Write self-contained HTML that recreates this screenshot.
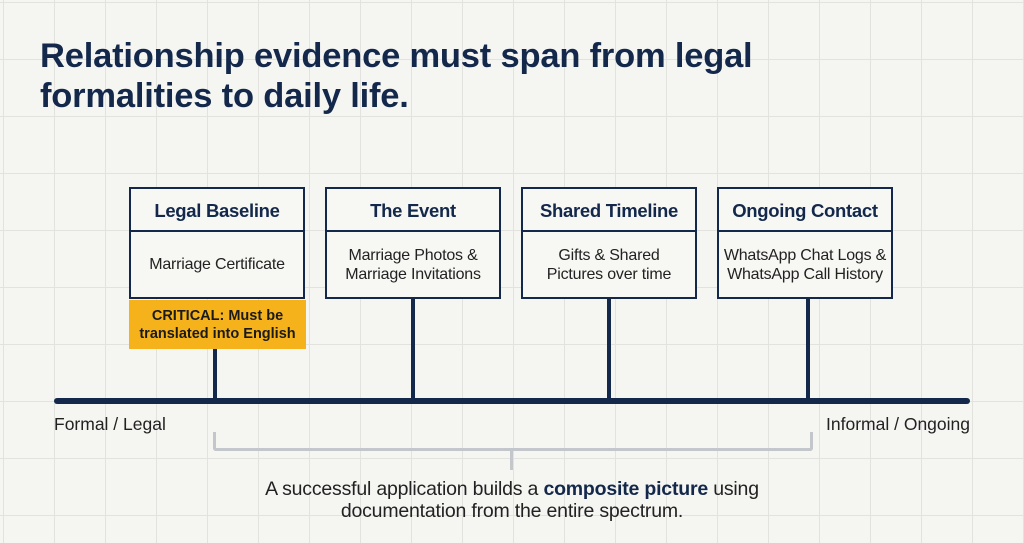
<!DOCTYPE html>
<html><head><meta charset="utf-8"><style>
body{margin:0;width:1024px;height:543px;overflow:hidden;background:#f5f5f2;font-family:"Liberation Sans",sans-serif;color:#13284a;position:relative;
background-image:linear-gradient(#e2e2de 1px,transparent 1px),linear-gradient(90deg,#e2e2de 1px,transparent 1px);background-size:51px 57px;background-position:3px 2px;}
.t{position:absolute;left:40px;top:36px;font-size:34.5px;font-weight:bold;line-height:40px;color:#13284a;letter-spacing:-0.2px;white-space:nowrap}
.box{position:absolute;top:187px;width:172px;height:108px;border:2.5px solid #13284a;background:#f7f7f4}
.h{height:41px;border-bottom:2.5px solid #13284a;font-weight:bold;font-size:18.5px;text-align:center;line-height:44px;white-space:nowrap;letter-spacing:-0.3px}
.b{height:65px;display:flex;align-items:center;justify-content:center;text-align:center;font-size:16px;line-height:19px;color:#222;white-space:nowrap;letter-spacing:-0.2px}
.stem{position:absolute;width:4px;background:#13284a}
.lbl{position:absolute;top:414px;font-size:17.5px;color:#222}
</style></head><body>
<div class="t">Relationship evidence must span from legal<br>formalities to daily life.</div>
<div class="box" style="left:129px"><div class="h">Legal Baseline</div><div class="b">Marriage Certificate</div></div>
<div class="box" style="left:325px"><div class="h">The Event</div><div class="b">Marriage Photos &amp;<br>Marriage Invitations</div></div>
<div class="box" style="left:521px"><div class="h">Shared Timeline</div><div class="b">Gifts &amp; Shared<br>Pictures over time</div></div>
<div class="box" style="left:717px"><div class="h">Ongoing Contact</div><div class="b">WhatsApp Chat Logs &amp;<br>WhatsApp Call History</div></div>
<div style="position:absolute;left:129px;top:300px;width:177px;height:49px;background:#f6b21b;font-weight:bold;font-size:14.5px;text-align:center;line-height:18px;display:flex;align-items:center;justify-content:center;color:#1a1a1a;white-space:nowrap">CRITICAL: Must be<br>translated into English</div>
<div class="stem" style="left:213px;top:349px;height:52px"></div>
<div class="stem" style="left:411px;top:299px;height:102px"></div>
<div class="stem" style="left:607px;top:299px;height:102px"></div>
<div class="stem" style="left:806px;top:299px;height:102px"></div>
<div style="position:absolute;left:54px;top:398px;width:916px;height:6px;border-radius:3px;background:#13284a"></div>
<div class="lbl" style="left:54px">Formal / Legal</div>
<div class="lbl" style="right:54px">Informal / Ongoing</div>
<div style="position:absolute;left:213px;top:432px;width:594px;height:16px;border:3px solid #c3c6cb;border-top:none;border-radius:0 0 3px 3px"></div>
<div style="position:absolute;left:510px;top:450px;width:3px;height:20px;background:#c3c6cb"></div>
<div style="position:absolute;left:150px;top:478px;width:724px;text-align:center;font-size:19.5px;line-height:22px;color:#222;letter-spacing:-0.2px">A successful application builds a <b style="color:#13284a">composite picture</b> using<br>documentation from the entire spectrum.</div>
</body></html>
